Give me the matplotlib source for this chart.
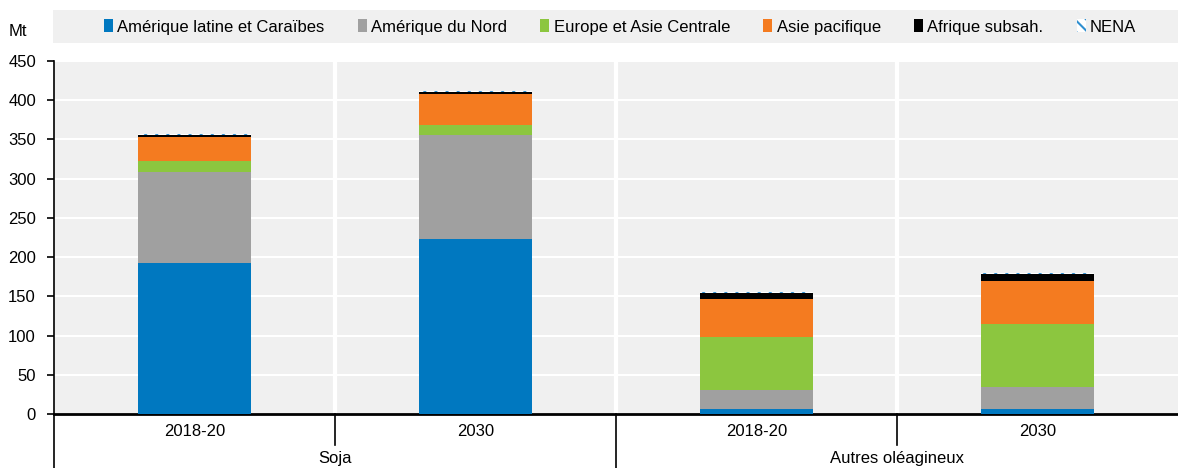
import matplotlib
matplotlib.use("Agg")
import matplotlib.pyplot as plt
from matplotlib.patches import Rectangle
import matplotlib.transforms as mtransforms
import numpy as np

plt.rcParams['font.family'] = ['Liberation Sans Narrow', 'Liberation Sans', 'DejaVu Sans']
plt.rcParams['hatch.linewidth'] = 1.5

periods = ["2018-20", "2030", "2018-20", "2030"]
groups = ["Soja", "Autres oléagineux"]
series_names = ["Amérique latine et Caraïbes", "Amérique du Nord", "Europe et Asie Centrale",
                "Asie pacifique", "Afrique subsah.", "NENA"]
amerique_latine = [192, 223, 6, 7]
amerique_nord = [117, 133, 24, 27]
europe_asie_c = [13, 12, 68, 81]
asie_pacifique = [31, 40, 48, 54]
afrique_subsah = [3, 3, 8, 9]
nena = [0.8, 0.8, 1.2, 1.2]
yticks = list(range(0, 451, 50))

colors = ["#0078c0", "#a0a0a0", "#8cc63f", "#f47b20", "#000000", "#ffffff"]
series = [amerique_latine, amerique_nord, europe_asie_c, asie_pacifique, afrique_subsah, nena]

W, H = 1178, 468
fig = plt.figure(figsize=(W / 100, H / 100), dpi=100)
ax = fig.add_axes([54 / W, 1 - 414 / H, 1 - 54 / W, (414 - 61) / H])
ax.set_facecolor("#f0f0f0")

x = np.arange(len(periods))
bottom = np.zeros(len(periods))
handles = []
for name, vals, c in zip(series_names, series, colors):
    if name == "NENA":
        b = ax.bar(x, vals, 0.4, bottom=bottom, color="white", edgecolor="#2f8fd0",
                   hatch="\\\\\\", linewidth=0, label=name, zorder=3)
    else:
        b = ax.bar(x, vals, 0.4, bottom=bottom, color=c, linewidth=0, label=name, zorder=3)
    handles.append(b)
    bottom += np.array(vals)

ax.set_xlim(-0.5, len(periods) - 0.5)
ax.set_ylim(0, 450)
ax.set_yticks(yticks)
ax.tick_params(axis="y", direction="out", length=5, width=1.2, labelsize=12, pad=8)
ax.set_xticks([])
for yv in yticks[1:]:
    ax.axhline(yv, color="white", lw=1.5, zorder=1)
for xv in [0.5, 1.5, 2.5]:
    ax.axvline(xv, color="white", lw=3, zorder=1)
for s in ["top", "right"]:
    ax.spines[s].set_visible(False)
ax.spines["left"].set_linewidth(1.2)
ax.spines["bottom"].set_linewidth(2)

trans = mtransforms.blended_transform_factory(ax.transData, ax.transAxes)
ah = 414 - 61
for xv, depth in [(-0.5, 54), (0.5, 31), (1.5, 54), (2.5, 31)]:
    ax.plot([xv, xv], [0, -depth / ah], color="black", lw=1.2, transform=trans, clip_on=False)
for xi, p in zip(x, periods):
    ax.text(xi, -18 / ah, p, transform=trans, ha="center", va="center", fontsize=12)
for gi, g in enumerate(groups):
    ax.text(gi * 2 + 0.5, -44 / ah, g, transform=trans, ha="center", va="center", fontsize=12)

# legend band
fig.patches.append(Rectangle((53 / W, 1 - 43 / H), 1 - 53 / W, 33 / H, transform=fig.transFigure,
                             facecolor="#f0f0f0", edgecolor="none", zorder=0))
fig.legend(handles=handles, labels=series_names, loc="center", bbox_to_anchor=(620 / W, 1 - 27 / H),
           ncol=6, frameon=False, fontsize=12, handlelength=0.55, handleheight=0.8,
           handletextpad=0.25, columnspacing=2.0, borderaxespad=0)
fig.text(18 / W, 1 - 31 / H, "Mt", ha="center", va="center", fontsize=12)

fig.savefig("out.png", dpi=100)
